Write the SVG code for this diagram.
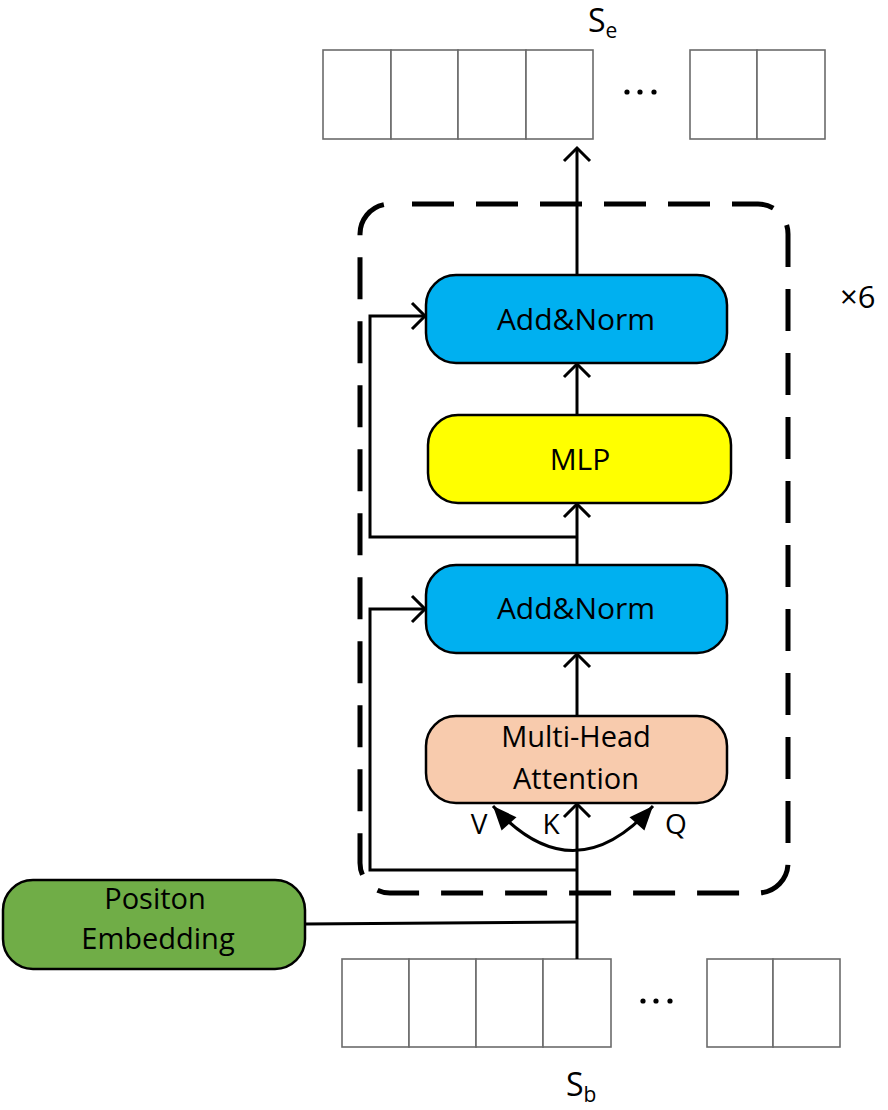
<svg xmlns="http://www.w3.org/2000/svg" width="888" height="1110" viewBox="0 0 888 1110">
<style>
.tok{fill:#fff;stroke:#6b6b6b;stroke-width:1.6}
.node{stroke:#000;stroke-width:2.5}
.t{font-family:"Open Sans","Liberation Sans",sans-serif;fill:#000;text-anchor:middle}
.c{fill:none;stroke:#000;stroke-width:3}
.dot{fill:#000}
</style>
<defs>
<marker id="open" markerUnits="userSpaceOnUse" markerWidth="40" markerHeight="40" viewBox="-20 -20 40 40" refX="0" refY="0" orient="auto" overflow="visible">
<path d="M-13,-13 L0,0 L-13,13" fill="none" stroke="#000" stroke-width="3"/>
</marker>
<marker id="solid" markerUnits="userSpaceOnUse" markerWidth="40" markerHeight="40" viewBox="-30 -20 40 40" refX="0" refY="0" orient="auto-start-reverse" overflow="visible">
<path d="M-24,-10 L0,0 L-24,10 Z" fill="#000"/>
</marker>
</defs>
<rect width="888" height="1110" fill="#fff"/>

<g id="block">
<rect x="360" y="204" width="428" height="689" rx="30" fill="none" stroke="#000" stroke-width="5" stroke-dasharray="42 22" stroke-dashoffset="42"/>
</g>
<text x="840" y="308" font-family="Open Sans, Liberation Sans, sans-serif" font-size="31">×6</text>

<g id="output-tokens">
<rect class="tok" x="323" y="50" width="68" height="89"/>
<rect class="tok" x="391" y="50" width="67" height="89"/>
<rect class="tok" x="458" y="50" width="68" height="89"/>
<rect class="tok" x="526" y="50" width="67" height="89"/>
<rect class="tok" x="690" y="50" width="67" height="89"/>
<rect class="tok" x="757" y="50" width="68" height="89"/>
<circle class="dot" cx="627" cy="92" r="2.6"/>
<circle class="dot" cx="640" cy="92" r="2.6"/>
<circle class="dot" cx="654" cy="92" r="2.6"/>
<text x="588" y="32" font-family="Open Sans, Liberation Sans, sans-serif" font-size="32">S<tspan font-size="21" dy="6">e</tspan></text>
</g>

<g id="input-tokens">
<rect class="tok" x="342" y="959" width="67" height="88"/>
<rect class="tok" x="409" y="959" width="67" height="88"/>
<rect class="tok" x="476" y="959" width="67" height="88"/>
<rect class="tok" x="543" y="959" width="68" height="88"/>
<rect class="tok" x="707" y="959" width="66" height="88"/>
<rect class="tok" x="773" y="959" width="67" height="88"/>
<circle class="dot" cx="643" cy="1001" r="2.6"/>
<circle class="dot" cx="656" cy="1001" r="2.6"/>
<circle class="dot" cx="670" cy="1001" r="2.6"/>
<text x="566" y="1096" font-family="Open Sans, Liberation Sans, sans-serif" font-size="32">S<tspan font-size="21" dy="6">b</tspan></text>
</g>

<g id="connectors">
<line class="c" x1="577" y1="959" x2="577" y2="804" marker-end="url(#open)"/>
<path class="c" d="M305,924 L577,922"/>
<path class="c" d="M577,870 H370 V609 H425" marker-end="url(#open)"/>
<path class="c" d="M493,806 Q573,895 653,806" marker-start="url(#solid)" marker-end="url(#solid)"/>
<line class="c" x1="577" y1="716" x2="577" y2="654" marker-end="url(#open)"/>
<line class="c" x1="577" y1="565" x2="577" y2="504" marker-end="url(#open)"/>
<path class="c" d="M577,537 H370 V316 H425" marker-end="url(#open)"/>
<line class="c" x1="577" y1="415" x2="577" y2="364" marker-end="url(#open)"/>
<line class="c" x1="577" y1="275" x2="577" y2="148" marker-end="url(#open)"/>
</g>

<g id="add-norm-top">
<rect class="node" x="426" y="275" width="301" height="88" rx="30" fill="#00B0F0"/>
<text class="t" x="576" y="330" font-size="30">Add&amp;Norm</text>
</g>
<g id="mlp">
<rect class="node" x="428" y="415" width="303" height="88" rx="30" fill="#FFFF00"/>
<text class="t" x="580" y="470" font-size="30">MLP</text>
</g>
<g id="add-norm-bottom">
<rect class="node" x="426" y="565" width="301" height="88" rx="30" fill="#00B0F0"/>
<text class="t" x="576" y="619" font-size="30">Add&amp;Norm</text>
</g>
<g id="mha">
<rect class="node" x="426" y="716" width="301" height="87" rx="30" fill="#F8CBAD"/>
<text class="t" x="576" y="747" font-size="29">Multi-Head</text>
<text class="t" x="576" y="789" font-size="29">Attention</text>
</g>
<text class="t" x="479" y="834" font-size="28">V</text>
<text class="t" x="551" y="834" font-size="28">K</text>
<text class="t" x="676" y="834" font-size="28">Q</text>

<g id="position-embedding">
<rect class="node" x="3" y="880" width="302" height="89" rx="30" fill="#70AD47"/>
<text class="t" x="155" y="909" font-size="29">Positon</text>
<text class="t" x="158" y="949" font-size="29">Embedding</text>
</g>
</svg>
